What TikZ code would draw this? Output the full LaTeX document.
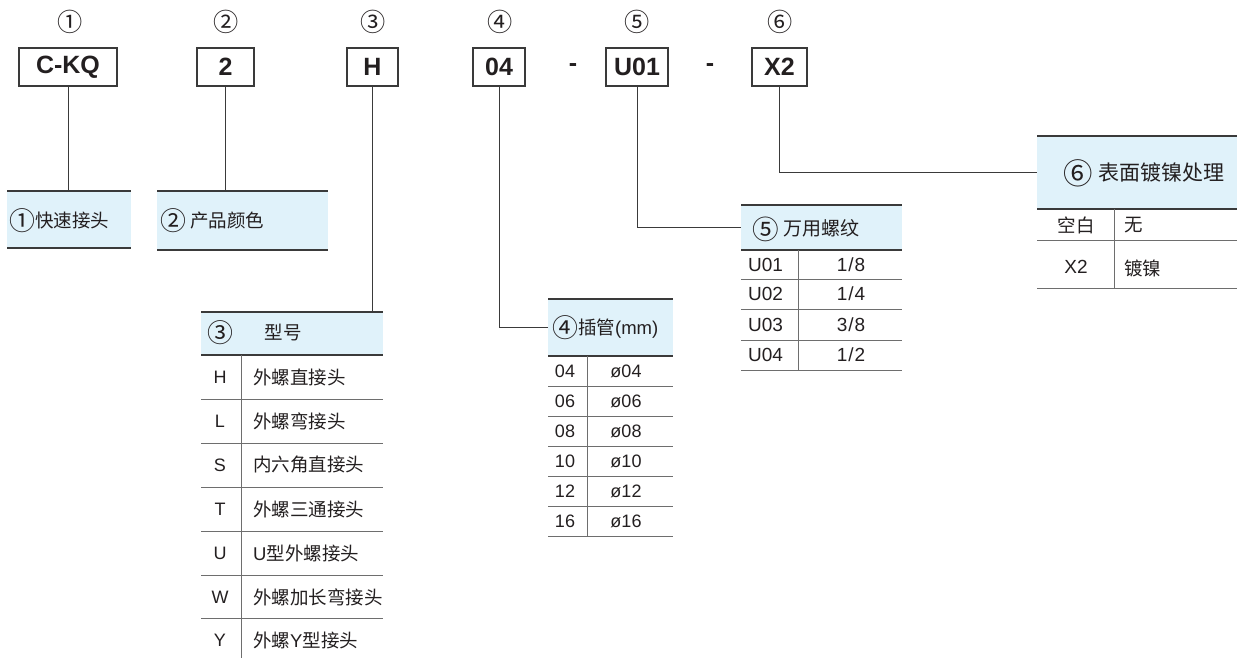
\documentclass[tikz,border=0pt]{standalone}
\usepackage{fontspec}
\setmainfont{Liberation Sans}
\newfontfamily\cjk{Noto Sans CJK SC}
\newfontfamily\cjkc{Noto Sans CJK SC}[Scale=1.4]
\definecolor{hdblue}{HTML}{E0F2FA}
\definecolor{lnclr}{HTML}{3A3A3A}
\definecolor{rowclr}{HTML}{6E6E6E}
\definecolor{txtclr}{HTML}{231F20}
\newcommand{\setfs}[1]{\fontsize{#1}{#1}\selectfont}
\newcommand{\cnum}[1]{{\cjkc\raisebox{-0.12em}{#1}}}

\begin{document}
\begin{tikzpicture}[x=1pt, y=-1pt, text=txtclr,
  code/.style={draw=lnclr, line width=1.2pt, minimum height=38pt, inner sep=0pt, font=\setfs{25}\bfseries},
  numlbl/.style={font=\cjk\setfs{18}},
  hdr/.style={fill=hdblue, inner sep=0pt, outer sep=0pt},
  conn/.style={draw=lnclr, line width=1pt},
  topln/.style={draw=lnclr, line width=1.8pt},
  rowln/.style={draw=rowclr, line width=1pt},
  cjktxt/.style={font=\cjk\setfs{18.5}, inner sep=0pt},
  lattxt/.style={font=\setfs{18}, inner sep=0pt}]
\useasboundingbox (0,0) rectangle (1237,658);

\foreach \n/\x/\c in {1/70/①, 2/226/②, 3/373/③, 4/500/④, 5/637/⑤, 6/780/⑥}
  \node[numlbl] (num\n) at (\x,22) {\cnum{\c}};

\node[code, minimum width=98pt] (ckq) at (68,67) {C-KQ};
\node[code, minimum width=57pt] (c2) at (225.5,67) {2};
\node[code, minimum width=51pt] (ch) at (372.5,67) {H};
\node[code, minimum width=52pt] (c04) at (499,67) {04};
\node[font=\setfs{25}\bfseries] (dsh1) at (573,68) {-};
\node[code, minimum width=62pt] (cu) at (637,67) {U01};
\node[font=\setfs{25}\bfseries] (dsh2) at (710,68) {-};
\node[code, minimum width=55pt] (cx) at (779.5,67) {X2};

% 1 and 2
\node[hdr, minimum width=124pt, minimum height=57pt] (hd1) at (69,219.5) {};
\draw[topln] (hd1.north west) -- (hd1.north east);
\draw[topln] (hd1.south west) -- (hd1.south east);
\node[cjktxt, anchor=west] (t1) at (9,221) {\cnum{①}快速接头};
\node[hdr, minimum width=171pt, minimum height=59pt] (hd2) at (242.5,220.5) {};
\draw[topln] (hd2.north west) -- (hd2.north east);
\draw[topln] (hd2.south west) -- (hd2.south east);
\node[cjktxt, anchor=west] (t2) at (160,221) {\cnum{②} 产品颜色};

% 3
\node[hdr, minimum width=182pt, minimum height=43pt] (hd3) at (292,333.5) {};
\draw[topln] (hd3.north west) -- (hd3.north east);
\draw[topln] (hd3.south west) -- (hd3.south east);
\node[cjktxt] (t3a) at (220,333) {\cnum{③}};
\node[cjktxt] (t3b) at (283,333) {型号};
\foreach \y in {399,443,487,531,575,618}
  \draw[rowln] (201,\y) -- (383,\y);
\draw[rowln] (241,355) -- (241,658);
\foreach \y/\k/\t in {377/H/外螺直接头, 421/L/外螺弯接头, 465/S/内六角直接头, 509/T/外螺三通接头,
    553/U/{\rmfamily U}型外螺接头, 597/W/外螺加长弯接头, 640/Y/外螺{\rmfamily Y}型接头} {
  \node[lattxt] (k3\k) at (220,\y) {\k};
  \node[cjktxt, anchor=west] (v3\k) at (253,\y) {\t};
}

% 4
\node[hdr, minimum width=125pt, minimum height=57pt] (hd4) at (610.5,327.5) {};
\draw[topln] (hd4.north west) -- (hd4.north east);
\draw[topln] (hd4.south west) -- (hd4.south east);
\node[cjktxt, anchor=west] (t4) at (552,328) {\cnum{④}插管{\rmfamily\setfs{18.5}(mm)}};
\foreach \y in {386,416,446,476,506,536}
  \draw[rowln] (548,\y) -- (673,\y);
\draw[rowln] (587,356) -- (587,536);
\foreach \y/\k in {371/04, 401/06, 431/08, 461/10, 491/12, 521/16} {
  \node[lattxt] (k4\k) at (565,\y) {\k};
  \node[lattxt] (v4\k) at (626,\y) {ø\k};
}

% 5
\node[hdr, minimum width=161pt, minimum height=45pt] (hd5) at (821.5,227.5) {};
\draw[topln] (hd5.north west) -- (hd5.north east);
\draw[topln] (hd5.south west) -- (hd5.south east);
\node[cjktxt, anchor=west, font=\cjk\setfs{19}] (t5) at (752,229) {\cnum{⑤} 万用螺纹};
\foreach \y in {279,309,340,370}
  \draw[rowln] (741,\y) -- (902,\y);
\draw[rowln] (798,250) -- (798,370);
\foreach \y/\k/\v in {264.5/U01/{1\kern1pt/\kern1pt8}, 294/U02/{1\kern1pt/\kern1pt4}, 324.5/U03/{3\kern1pt/\kern1pt8}, 355/U04/{1\kern1pt/\kern1pt2}} {
  \node[lattxt, font=\setfs{19}, anchor=west] (k5\k) at (748,\y) {\k};
  \node[lattxt, font=\setfs{19}] (v5\k) at (851,\y) {\v};
}

% 6
\node[hdr, minimum width=200pt, minimum height=73pt] (hd6) at (1137,172.5) {};
\draw[topln] (hd6.north west) -- (hd6.north east);
\draw[topln] (hd6.south west) -- (hd6.south east);
\node[cjktxt, font=\cjk\setfs{21}] (t6) at (1144,173) {\cnum{⑥}\hspace{6pt}表面镀镍处理};
\draw[rowln] (1037,240) -- (1237,240);
\draw[rowln] (1037,288) -- (1237,288);
\draw[rowln] (1114,209) -- (1114,288);
\node[cjktxt] (k6a) at (1076,225) {空白};
\node[cjktxt, anchor=west] (v6a) at (1124,225) {无};
\node[lattxt, font=\setfs{19}] (k6b) at (1076,267) {X2};
\node[cjktxt, anchor=west] (v6b) at (1124,268) {镀镍};

% connectors
\draw[conn] (ckq) -- (ckq |- hd1.north);
\draw[conn] (c2) -- (c2 |- hd2.north);
\draw[conn] (ch) -- (ch |- hd3.north);
\draw[conn] (c04) |- (hd4);
\draw[conn] (cu) |- (hd5);
\draw[conn] (cx) |- (hd6);
\end{tikzpicture}
\end{document}
